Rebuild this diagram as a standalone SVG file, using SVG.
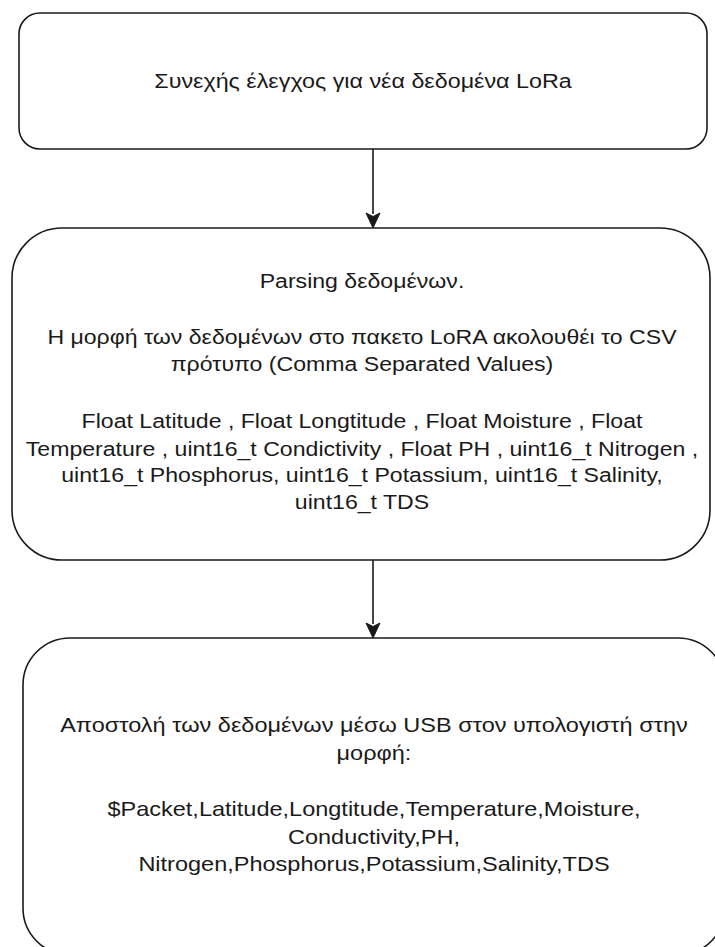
<svg xmlns="http://www.w3.org/2000/svg" width="715" height="947" viewBox="0 0 715 947">
  <style>
    .box { fill: #ffffff; stroke: #1a1a1a; stroke-width: 1.6; }
    .lbl { font-family: "Liberation Sans", Arial, sans-serif; font-size: 21px; fill: #1a1a1a; text-anchor: middle; }
    .edge { fill: none; stroke: #1a1a1a; stroke-width: 1.6; }
    .head { fill: #1a1a1a; stroke: #1a1a1a; stroke-width: 1; }
  </style>
  <rect width="715" height="947" fill="#ffffff"/>

  <g id="edges">
    <line class="edge" x1="373" y1="149" x2="373" y2="214"/>
    <path class="head" d="M366,213 L373,216.5 L380,213 L373,228 Z"/>
    <line class="edge" x1="373" y1="560" x2="373" y2="624"/>
    <path class="head" d="M366,623 L373,626.5 L380,623 L373,638 Z"/>
  </g>

  <g id="node1">
    <rect class="box" x="19" y="13" width="688" height="136" rx="21" ry="21"/>
    <g transform="translate(363 0) scale(1.11 1) translate(-363 0)">
      <text class="lbl" x="363" y="88">Συνεχής έλεγχος για νέα δεδομένα LoRa</text>
    </g>
  </g>

  <g id="node2">
    <rect class="box" x="12" y="228" width="698" height="332" rx="50" ry="50"/>
    <g transform="translate(362 0) scale(1.1 1) translate(-362 0)">
      <text class="lbl" x="362" y="288">Parsing δεδομένων.</text>
      <text class="lbl" x="362" y="344">Η μορφή των δεδομένων στο πακετο LoRA ακολουθέι το CSV</text>
      <text class="lbl" x="362" y="371">πρότυπο (Comma Separated Values)</text>
      <text class="lbl" x="362" y="428">Float Latitude , Float Longtitude , Float Moisture , Float</text>
      <text class="lbl" x="362" y="456">Temperature , uint16_t Condictivity , Float PH , uint16_t Nitrogen ,</text>
      <text class="lbl" x="362" y="482">uint16_t Phosphorus, uint16_t Potassium, uint16_t Salinity,</text>
      <text class="lbl" x="362" y="509">uint16_t TDS</text>
    </g>
  </g>

  <g id="node3">
    <rect class="box" x="23" y="638" width="702" height="317" rx="47" ry="47"/>
    <g transform="translate(374 0) scale(1.12 1) translate(-374 0)">
      <text class="lbl" x="374" y="732">Αποστολή των δεδομένων μέσω USB στον υπολογιστή στην</text>
      <text class="lbl" x="374" y="760">μορφή:</text>
      <text class="lbl" x="374" y="816">$Packet,Latitude,Longtitude,Temperature,Moisture,</text>
      <text class="lbl" x="374" y="844">Conductivity,PH,</text>
      <text class="lbl" x="374" y="871">Nitrogen,Phosphorus,Potassium,Salinity,TDS</text>
    </g>
  </g>
</svg>
